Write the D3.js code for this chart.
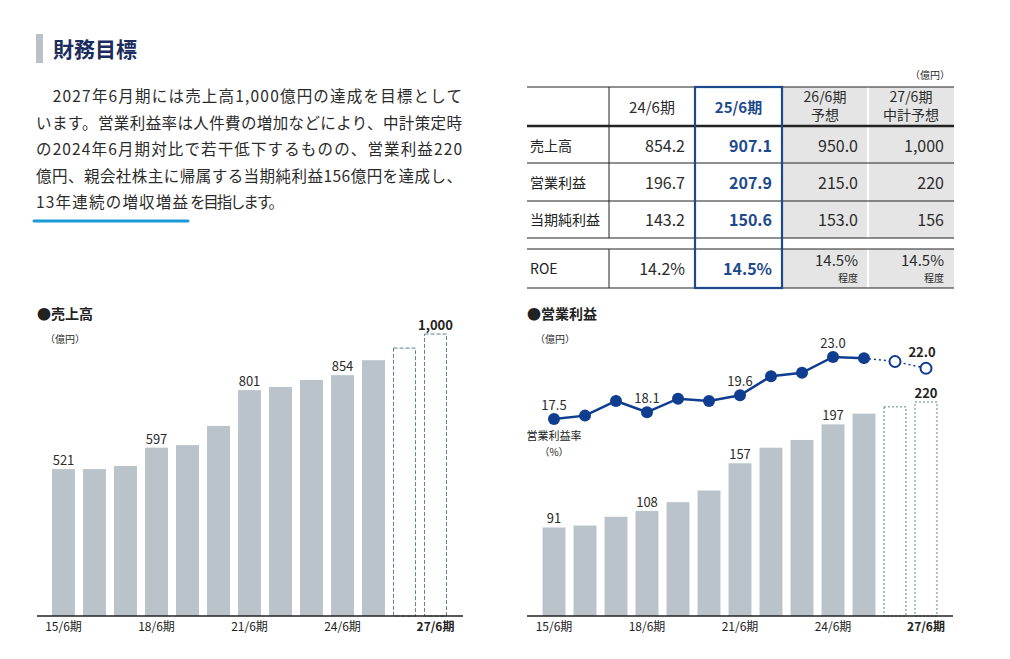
<!DOCTYPE html>
<html>
<head>
<meta charset="utf-8">
<script src="https://cdn.jsdelivr.net/npm/d3@7"></script>
<style>
  body { margin: 0; background: #fff; }
  svg { font-family: "Noto Sans CJK JP", "Noto Sans", sans-serif; display: block; }
</style>
</head>
<body>
<div id="chart"></div>
<script>
// Fiscal years, 15/6期 .. 27/6期 (last two are forecasts).
var periods = ['15/6期', '16/6期', '17/6期', '18/6期', '19/6期', '20/6期', '21/6期',
               '22/6期', '23/6期', '24/6期', '25/6期', '26/6期', '27/6期'];
var tickPeriods = ['15/6期', '18/6期', '21/6期', '24/6期', '27/6期'];
var forecastPeriods = ['26/6期', '27/6期'];

// 売上高 (億円)
var salesValues = [521, 521, 532, 597, 606, 674, 801, 812, 837, 854, 907, 950, 1000];
var salesLabels = ['521', '', '', '597', '', '', '801', '', '', '854', '', '', '1,000'];

// 営業利益 (億円)
var opIncomeValues = [91, 93, 102, 108, 117, 129, 157, 173, 181, 197, 208, 215, 220];
var opIncomeLabels = ['91', '', '', '108', '', '', '157', '', '', '197', '', '', '220'];

// 営業利益率 (%)
var opMarginValues = [17.5, 17.8, 19.1, 18.1, 19.3, 19.1, 19.6, 21.3, 21.6, 23.0, 22.9, 22.6, 22.0];
var opMarginLabels = ['17.5', '', '', '18.1', '', '', '19.6', '', '', '23.0', '', '', '22.0'];

// Table
var tableHeads = [['24/6期'], ['25/6期'], ['26/6期', '予想'], ['27/6期', '中計予想']];
var tableRowNames = ['売上高', '営業利益', '当期純利益', 'ROE'];
var tableCells = [
  ['854.2', '907.1', '950.0', '1,000'],
  ['196.7', '207.9', '215.0', '220'],
  ['143.2', '150.6', '153.0', '156'],
  ['14.2%', '14.5%', '14.5%', '14.5%']
];
var roeNotes = ['', '', '程度', '程度'];

var bodyLines = [
  '　2027年6月期には売上高1,000億円の達成を目標として',
  'います。営業利益率は人件費の増加などにより、中計策定時',
  'の2024年6月期対比で若干低下するものの、営業利益220',
  '億円、親会社株主に帰属する当期純利益156億円を達成し、'
];
var lastLineMarked = '13年連続の増収増益';
var lastLineRest = 'を目指します。';

var NAVY = '#1d4a8c';
var LINE_NAVY = '#0f3d8f';
var BAR = '#b9c3c9';
var DASH = '#5d8190';
var TEXT = '#2b2b2b';

var width = 1010, height = 659;
var svg = d3.select('#chart').append('svg')
    .attr('width', width)
    .attr('height', height);

// ---- Heading and body text ----
svg.append('rect').attr('x', 36).attr('y', 34).attr('width', 7).attr('height', 29).attr('fill', '#b9c2c8');
svg.append('text')
    .attr('x', 53).attr('y', 57)
    .attr('font-size', 21).attr('font-weight', 700)
    .attr('fill', '#1b2d5c')
    .text('財務目標');

bodyLines.forEach(function(line, i) {
  svg.append('text')
      .attr('x', 36).attr('y', 102 + i * 26.5)
      .attr('font-size', 15.5)
      .attr('fill', TEXT)
      .attr('textLength', 426)
      .attr('lengthAdjust', 'spacing')
      .text(line);
});

var lastY = 102 + 4 * 26.5;
svg.append('text')
    .attr('x', 36).attr('y', lastY)
    .attr('font-size', 15.5)
    .attr('fill', TEXT)
    .attr('textLength', 152)
    .attr('lengthAdjust', 'spacing')
    .text(lastLineMarked);
svg.append('text')
    .attr('x', 190).attr('y', lastY)
    .attr('font-size', 15.5)
    .attr('fill', TEXT)
    .attr('textLength', 94)
    .attr('lengthAdjust', 'spacing')
    .text(lastLineRest);
svg.append('line')
    .attr('x1', 34).attr('x2', 188)
    .attr('y1', lastY + 13).attr('y2', lastY + 13)
    .attr('stroke', '#1a9ad8').attr('stroke-width', 3)
    .attr('stroke-linecap', 'round');

// ---- Table ----
var colEdges = [527, 609, 695, 782, 868, 954];
var rowEdges = [87, 126, 163, 201, 238, 249, 288];
var table = svg.append('g');

// grey forecast columns (not in the spacer row)
[[87, 238], [249, 288]].forEach(function(span) {
  table.append('rect')
      .attr('x', colEdges[3]).attr('y', span[0])
      .attr('width', colEdges[5] - colEdges[3]).attr('height', span[1] - span[0])
      .attr('fill', '#e5e5e5');
});
table.append('line')
    .attr('x1', colEdges[4]).attr('x2', colEdges[4])
    .attr('y1', rowEdges[0]).attr('y2', rowEdges[6])
    .attr('stroke', '#fff').attr('stroke-width', 2);

// horizontal rules
rowEdges.forEach(function(y, i) {
  table.append('line')
      .attr('x1', colEdges[0]).attr('x2', colEdges[5])
      .attr('y1', y).attr('y2', y)
      .attr('stroke', '#222')
      .attr('stroke-width', i === 1 ? 2.5 : 1);
});
// vertical rule after row names
[[87, 238], [249, 288]].forEach(function(span) {
  table.append('line')
      .attr('x1', colEdges[1]).attr('x2', colEdges[1])
      .attr('y1', span[0]).attr('y2', span[1])
      .attr('stroke', '#222').attr('stroke-width', 1);
});

table.append('text')
    .attr('x', 950).attr('y', 79)
    .attr('text-anchor', 'end')
    .attr('font-size', 10).attr('fill', TEXT)
    .text('（億円）');

tableHeads.forEach(function(lines, c) {
  var cx = (colEdges[c + 1] + colEdges[c + 2]) / 2;
  lines.forEach(function(t, k) {
    table.append('text')
        .attr('x', cx)
        .attr('y', lines.length === 1 ? 113 : 102 + k * 18)
        .attr('text-anchor', 'middle')
        .attr('font-size', lines.length === 1 ? 15 : 14)
        .attr('font-weight', c === 1 ? 700 : 400)
        .attr('fill', c === 1 ? NAVY : TEXT)
        .text(t);
  });
});

var rowCenters = [146, 183, 220, 269];
tableRowNames.forEach(function(name, r) {
  table.append('text')
      .attr('x', 530).attr('y', rowCenters[r] + 5)
      .attr('font-size', 14).attr('fill', '#222')
      .text(name);
  tableCells[r].forEach(function(v, c) {
    var isRoeNote = r === 3 && roeNotes[c];
    table.append('text')
        .attr('x', colEdges[c + 2] - 10)
        .attr('y', isRoeNote ? rowCenters[r] - 3 : rowCenters[r] + 6)
        .attr('text-anchor', 'end')
        .attr('font-size', isRoeNote ? 15 : 16)
        .attr('font-weight', c === 1 ? 700 : 400)
        .attr('fill', c === 1 ? NAVY : TEXT)
        .text(v);
    if (isRoeNote) {
      table.append('text')
          .attr('x', colEdges[c + 2] - 10)
          .attr('y', rowCenters[r] + 13)
          .attr('text-anchor', 'end')
          .attr('font-size', 10).attr('fill', TEXT)
          .text(roeNotes[c]);
    }
  });
});

// highlighted current-year column
table.append('rect')
    .attr('x', colEdges[2]).attr('y', rowEdges[0])
    .attr('width', colEdges[3] - colEdges[2]).attr('height', rowEdges[6] - rowEdges[0])
    .attr('fill', 'none').attr('stroke', NAVY).attr('stroke-width', 2.2);

// ---- Bar charts ----
function isForecast(p) { return forecastPeriods.indexOf(p) >= 0; }

function barChart(opts) {
  var g = svg.append('g');
  var x = d3.scaleBand().domain(periods)
      .range(opts.xRange).paddingInner(0.26).paddingOuter(0.13);
  var y = d3.scaleLinear().domain([0, opts.yMax]).range([616, opts.yTop]);

  g.append('text')
      .attr('x', opts.left).attr('y', 319)
      .attr('font-size', 14).attr('font-weight', 700).attr('fill', '#222')
      .text(opts.title);
  g.append('text')
      .attr('x', opts.left + 8).attr('y', 343)
      .attr('font-size', 10).attr('fill', TEXT)
      .text('（億円）');

  g.selectAll('rect.bar').data(opts.values)
    .enter().append('rect')
      .attr('class', 'bar')
      .attr('x', function(d, i) { return x(periods[i]) + (isForecast(periods[i]) ? 0.5 : 0); })
      .attr('width', function(d, i) { return x.bandwidth() - (isForecast(periods[i]) ? 1 : 0); })
      .attr('y', function(d) { return y(d); })
      .attr('height', function(d) { return y(0) - y(d); })
      .attr('fill', function(d, i) { return isForecast(periods[i]) ? '#fff' : BAR; })
      .attr('stroke', function(d, i) { return isForecast(periods[i]) ? DASH : 'none'; })
      .attr('stroke-width', 1)
      .attr('stroke-dasharray', opts.dash);

  g.selectAll('text.val').data(opts.labels)
    .enter().append('text')
      .attr('class', 'val')
      .attr('x', function(d, i) { return x(periods[i]) + x.bandwidth() / 2; })
      .attr('y', function(d, i) { return y(opts.values[i]) - 4; })
      .attr('text-anchor', 'middle')
      .attr('font-size', 13)
      .attr('font-weight', function(d, i) { return isForecast(periods[i]) ? 700 : 400; })
      .attr('fill', function(d, i) { return isForecast(periods[i]) ? '#222' : TEXT; })
      .text(function(d) { return d; });

  var axis = d3.axisBottom(x).tickValues(tickPeriods).tickSize(0).tickPadding(6);
  var ax = g.append('g').attr('transform', 'translate(0,616)').call(axis);
  ax.select('.domain').remove();
  ax.append('line')
      .attr('x1', opts.axisRange[0]).attr('x2', opts.axisRange[1])
      .attr('stroke', '#222').attr('stroke-width', 1.5);
  ax.selectAll('.tick text')
      .attr('font-family', '"Noto Sans CJK JP", sans-serif')
      .attr('font-size', 12)
      .attr('fill', '#222')
      .attr('font-weight', function(d) { return isForecast(d) ? 700 : 400; });

  return { g: g, x: x, y: y };
}

barChart({
  title: '●売上高', left: 37,
  xRange: [48, 451], axisRange: [37, 463],
  yMax: 1000, yTop: 334,
  values: salesValues, labels: salesLabels,
  dash: '4,2'
});

var right = barChart({
  title: '●営業利益', left: 527,
  xRange: [538.5, 941.5], axisRange: [527, 953],
  yMax: 220, yTop: 402,
  values: opIncomeValues, labels: opIncomeLabels,
  dash: '2,2'
});

// ---- Operating margin line ----
var xr = right.x;
var ym = d3.scaleLinear().domain([17.5, 23.0]).range([419, 357]);
var pts = opMarginValues.map(function(v, i) {
  return { p: periods[i], v: v, label: opMarginLabels[i] };
});
var cx = function(d) { return xr(d.p) + xr.bandwidth() / 2; };
var line = d3.line().x(cx).y(function(d) { return ym(d.v); });

var actualPts = pts.filter(function(d) { return !isForecast(d.p); });
var lastActual = actualPts[actualPts.length - 1];
var fcPts = [lastActual].concat(pts.filter(function(d) { return isForecast(d.p); }));

var mg = svg.append('g');
mg.append('path').datum(actualPts)
    .attr('d', line).attr('fill', 'none')
    .attr('stroke', LINE_NAVY).attr('stroke-width', 2.5);
mg.append('path').datum(fcPts)
    .attr('d', line).attr('fill', 'none')
    .attr('stroke', LINE_NAVY).attr('stroke-width', 1.5)
    .attr('stroke-dasharray', '2,3');
mg.selectAll('circle').data(pts)
  .enter().append('circle')
    .attr('cx', cx).attr('cy', function(d) { return ym(d.v); })
    .attr('r', function(d) { return isForecast(d.p) ? 5.5 : 6; })
    .attr('fill', function(d) { return isForecast(d.p) ? '#fff' : LINE_NAVY; })
    .attr('stroke', LINE_NAVY)
    .attr('stroke-width', function(d) { return isForecast(d.p) ? 2 : 0; });
mg.selectAll('text.pct').data(pts.filter(function(d) { return d.label; }))
  .enter().append('text')
    .attr('class', 'pct')
    .attr('x', function(d) { return cx(d) - (isForecast(d.p) ? 4 : 0); })
    .attr('y', function(d) { return ym(d.v) - (isForecast(d.p) ? 11 : 9); })
    .attr('text-anchor', 'middle')
    .attr('font-size', 13)
    .attr('font-weight', function(d) { return isForecast(d.p) ? 700 : 400; })
    .attr('fill', function(d) { return isForecast(d.p) ? '#222' : TEXT; })
    .text(function(d) { return d.label; });

mg.append('text')
    .attr('x', cx(pts[0])).attr('y', 440)
    .attr('text-anchor', 'middle')
    .attr('font-size', 11).attr('fill', '#222')
    .text('営業利益率');
mg.append('text')
    .attr('x', cx(pts[0])).attr('y', 456)
    .attr('text-anchor', 'middle')
    .attr('font-size', 10).attr('fill', '#222')
    .text('（%）');
</script>
</body>
</html>
